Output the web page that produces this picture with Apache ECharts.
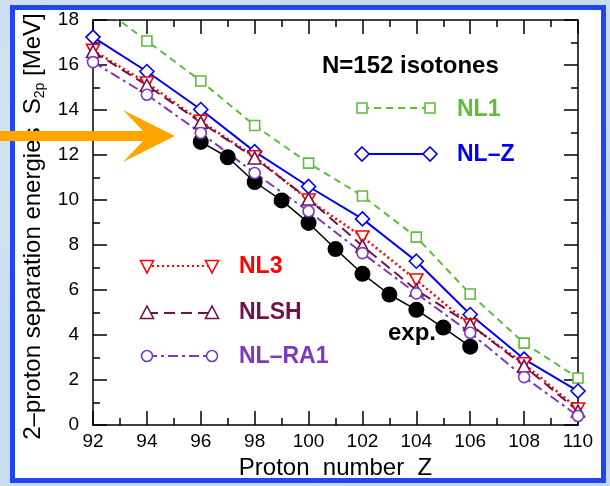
<!DOCTYPE html>
<html>
<head>
<meta charset="utf-8">
<script src="https://cdn.jsdelivr.net/npm/echarts@6/dist/echarts.min.js"></script>
<style>
  html, body { margin: 0; padding: 0; }
  body {
    width: 610px; height: 486px; overflow: hidden; position: relative;
    background: #c9dcf0;
    background-image:
      radial-gradient(circle at 20% 30%, #dbe8f6 0, rgba(219,232,246,0) 40%),
      radial-gradient(circle at 80% 70%, #b9d0ea 0, rgba(185,208,234,0) 45%);
  }
  #frame {
    position: absolute; left: 10px; top: 5px; width: 586px; height: 468px;
    border: 5px solid #1f45f5; background: #fff;
  }
  #chart { position: absolute; left: 0; top: 0; width: 610px; height: 486px; }
</style>
</head>
<body>
<div id="frame"></div>
<div id="chart"></div>
<script>
  // 数据 (S2p, MeV)
  var zTheory = [92, 94, 96, 98, 100, 102, 104, 106, 108, 110];
  var nl1   = [18.85, 17.07, 15.29, 13.31, 11.64, 10.18, 8.35, 5.82, 3.64, 2.09];
  var nlz   = [17.24, 15.71, 14.02, 12.15, 10.60, 9.16, 7.28, 4.91, 2.93, 1.51];
  var nl3   = [16.65, 15.20, 13.50, 11.92, 10.00, 8.36, 6.44, 4.44, 2.72, 0.71];
  var nlsh  = [16.60, 15.10, 13.45, 11.87, 10.04, 7.96, 6.00, 4.47, 2.62, 0.62];
  var nlra1 = [16.13, 14.68, 12.98, 11.20, 9.50, 7.64, 5.85, 4.10, 2.13, 0.40];

  var zExp  = [96, 97, 98, 99, 100, 101, 102, 103, 104, 105, 106];
  var sExp  = [12.58, 11.90, 10.80, 9.98, 8.98, 7.82, 6.72, 5.80, 5.12, 4.33, 3.48];

  var FONT = '"Liberation Sans", Arial, Helvetica, sans-serif';
  var C = { nl1: '#5bbf3a', nlz: '#0000ff', nl3: '#ff0000', nlsh: '#74114c', nlra1: '#7d38c2' };

  function pairs(xs, ys) {
    return xs.map(function (x, i) { return [x, ys[i]]; });
  }

  function theory(name, ys, color, symbol, size, dash, width, rotate) {
    return {
      name: name, type: 'line', data: pairs(zTheory, ys),
      symbol: symbol, symbolSize: size, symbolRotate: rotate || 0,
      showAllSymbol: true,
      itemStyle: { color: '#fff', borderColor: color, borderWidth: 1.6 },
      lineStyle: { color: color, width: width, type: dash },
      emphasis: { disabled: true },
      animation: false
    };
  }

  // 图例
  var legendItems = [
    { name: 'NL1',    color: C.nl1,   symbol: 'square',  dash: [7, 5],        x1: 362, x2: 430, y: 108, tx: 457, ty: 110 },
    { name: 'NL–Z',   color: C.nlz,   symbol: 'diamond', dash: null,          x1: 362, x2: 430, y: 154, tx: 457, ty: 155 },
    { name: 'NL3',    color: C.nl3,   symbol: 'tridown', dash: [2, 3],        x1: 147, x2: 212, y: 266, tx: 239, ty: 267 },
    { name: 'NLSH',   color: C.nlsh,  symbol: 'triup',   dash: [11, 6],       x1: 147, x2: 212, y: 313, tx: 239, ty: 313 },
    { name: 'NL–RA1', color: C.nlra1, symbol: 'circle',  dash: [10, 4, 3, 4], x1: 147, x2: 212, y: 356, tx: 239, ty: 357 }
  ];

  function sym(kind, cx, cy, color) {
    var st = { fill: '#fff', stroke: color, lineWidth: 1.6 };
    if (kind === 'square') return { type: 'rect', shape: { x: cx - 5, y: cy - 5, width: 10, height: 10 }, style: st };
    if (kind === 'circle') return { type: 'circle', shape: { cx: cx, cy: cy, r: 5.5 }, style: st };
    var pts;
    if (kind === 'diamond') pts = [[cx, cy - 7], [cx + 7, cy], [cx, cy + 7], [cx - 7, cy]];
    if (kind === 'triup') pts = [[cx, cy - 7], [cx + 6.5, cy + 5.5], [cx - 6.5, cy + 5.5]];
    if (kind === 'tridown') pts = [[cx, cy + 7], [cx + 6.5, cy - 5.5], [cx - 6.5, cy - 5.5]];
    return { type: 'polygon', shape: { points: pts }, style: st };
  }

  var graphics = [];
  legendItems.forEach(function (it) {
    graphics.push({
      type: 'line', shape: { x1: it.x1, y1: it.y, x2: it.x2, y2: it.y },
      style: { stroke: it.color, lineWidth: 1.8, lineDash: it.dash }
    });
    graphics.push(sym(it.symbol, it.x1, it.y, it.color));
    graphics.push(sym(it.symbol, it.x2, it.y, it.color));
    graphics.push({
      type: 'text', x: it.tx, y: it.ty,
      style: { text: it.name, fill: it.color, font: 'bold 23px ' + FONT, textAlign: 'left', textVerticalAlign: 'middle' }
    });
  });
  graphics.push({
    type: 'text', x: 322, y: 66,
    style: { text: 'N=152 isotones', fill: '#000', font: 'bold 24px ' + FONT, textAlign: 'left', textVerticalAlign: 'middle' }
  });
  graphics.push({
    type: 'text', x: 388, y: 333,
    style: { text: 'exp.', fill: '#000', font: 'bold 24px ' + FONT, textAlign: 'left', textVerticalAlign: 'middle' }
  });
  // 橙色箭头
  graphics.push({
    type: 'polygon', z: 100,
    shape: { points: [[0, 131], [143, 131], [123, 110], [175, 136], [123, 162], [143, 141], [0, 141]] },
    style: { fill: '#ffa500' }
  });

  function axisCommon(show) {
    return {
      axisLine: { show: true, onZero: false, lineStyle: { color: '#000', width: 1.5 } },
      axisTick: { show: true, inside: true, length: 14, lineStyle: { color: '#000', width: 1.5 } },
      minorTick: { show: true, splitNumber: 2, length: 7, lineStyle: { color: '#000', width: 1.5 } },
      splitLine: { show: false },
      axisLabel: { show: show, color: '#000', fontSize: 19, fontFamily: FONT }
    };
  }

  var xBottom = Object.assign(axisCommon(true), {
    type: 'value', min: 92, max: 110, interval: 2, position: 'bottom',
    name: 'Proton  number  Z', nameLocation: 'middle', nameGap: 30,
    nameTextStyle: { color: '#000', fontSize: 24, fontFamily: FONT }
  });
  xBottom.axisLabel.margin = 7;
  var xTop = Object.assign(axisCommon(false), { type: 'value', min: 92, max: 110, interval: 2, position: 'top' });

  var yLeft = Object.assign(axisCommon(true), {
    type: 'value', min: 0, max: 18, interval: 2, position: 'left',
    name: '{n|2–proton separation energies  S}{s|2p}{n| [MeV]}',
    nameLocation: 'middle', nameRotate: 90, nameGap: 44,
    nameTextStyle: {
      color: '#000', fontFamily: FONT, padding: [0, 8, 0, 0],
      rich: {
        n: { fontSize: 24, fontFamily: FONT, color: '#000', lineHeight: 28 },
        s: { fontSize: 14, fontFamily: FONT, color: '#000', lineHeight: 14, verticalAlign: 'bottom' }
      }
    }
  });
  yLeft.axisLabel.margin = 14;
  var yRight = Object.assign(axisCommon(false), { type: 'value', min: 0, max: 18, interval: 2, position: 'right' });

  var chart = echarts.init(document.getElementById('chart'));
  chart.setOption({
    backgroundColor: 'transparent',
    animation: false,
    grid: { left: 93, right: 32, top: 20, bottom: 61, containLabel: false },
    xAxis: [xBottom, xTop],
    yAxis: [yLeft, yRight],
    series: [
      {
        name: 'exp.', type: 'line', data: pairs(zExp, sExp),
        symbol: 'circle', symbolSize: 16,
        itemStyle: { color: '#000' },
        lineStyle: { color: '#000', width: 1.5 },
        emphasis: { disabled: true }
      },
      theory('NL1', nl1, C.nl1, 'rect', 10, [7, 5], 2),
      theory('NL-Z', nlz, C.nlz, 'diamond', [14, 14], 'solid', 2),
      theory('NL3', nl3, C.nl3, 'triangle', [13, 12], [2, 3], 2.5, 180),
      theory('NLSH', nlsh, C.nlsh, 'triangle', [13, 12], [11, 6], 2),
      theory('NL-RA1', nlra1, C.nlra1, 'circle', 11, [10, 4, 3, 4], 2)
    ],
    graphic: graphics
  });
</script>
</body>
</html>
